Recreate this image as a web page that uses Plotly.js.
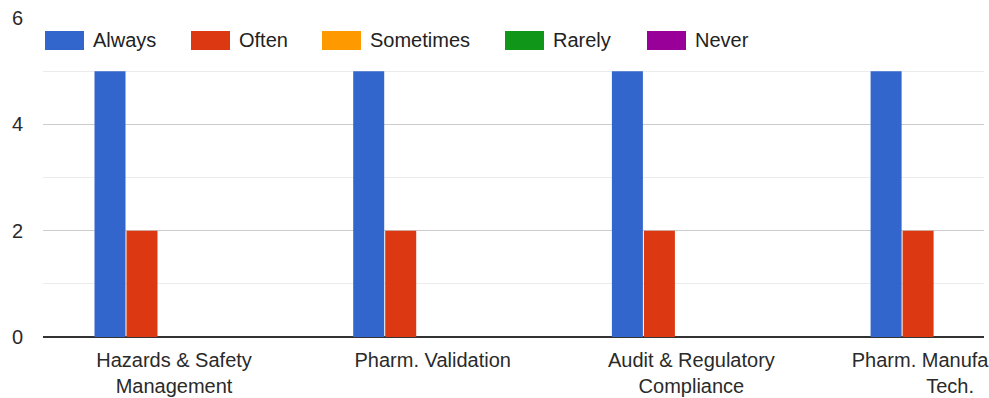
<!DOCTYPE html>
<html>
<head>
<meta charset="utf-8">
<script src="https://cdn.plot.ly/plotly-3.0.1.min.js"></script>
<style>
  html, body { margin: 0; padding: 0; background: #fff; overflow: hidden; }
  #chart { width: 989px; height: 398px; }
</style>
</head>
<body>
<div id="chart"></div>
<script>
// ---- data ----
const categories = ["Hazards & Safety Management", "Pharm. Validation", "Audit & Regulatory Compliance", "Pharm. Manufacturing Tech."];
const tickLabels = ["Hazards & Safety<br>Management", "Pharm. Validation", "Audit & Regulatory<br>Compliance", "Pharm. Manufacturing<br>Tech."];
const seriesNames = ["Always", "Often", "Sometimes", "Rarely", "Never"];
const always    = [5, 5, 5, 5];
const often     = [2, 2, 2, 2];
const sometimes = [0, 0, 0, 0];
const rarely    = [0, 0, 0, 0];
const never     = [0, 0, 0, 0];
const seriesValues = [always, often, sometimes, rarely, never];
const colors = ["#3366cc", "#dc3912", "#ff9900", "#109618", "#990099"];
const yTicks = [0, 2, 4, 6];

// ---- layout geometry (pixels) ----
const W = 989, H = 398;
const M = { l: 43, r: 5, t: 18, b: 61 };
const plotW = W - M.l - M.r, plotH = H - M.t - M.b;
const px2x = px => (px - M.l) / plotW;
const py2y = py => (H - M.b - py) / plotH;

const traces = seriesValues.map((vals, i) => ({
  type: "bar",
  name: seriesNames[i],
  x: categories,
  y: vals,
  marker: { color: colors[i], line: { width: 0 } },
  showlegend: false,
  hoverinfo: "none"
}));

// custom legend (wide swatches like the reference)
const legendSwatchX = [45, 191, 322, 505, 647];
const swW = 39, swTop = 31, swBot = 50;
const shapes = [], annotations = [];
seriesNames.forEach((n, i) => {
  shapes.push({
    type: "rect", xref: "paper", yref: "paper", layer: "above",
    x0: px2x(legendSwatchX[i]), x1: px2x(legendSwatchX[i] + swW),
    y0: py2y(swBot), y1: py2y(swTop),
    fillcolor: colors[i], line: { width: 0 }
  });
  annotations.push({
    xref: "paper", yref: "paper",
    x: px2x(legendSwatchX[i] + swW + 7), y: py2y((swTop + swBot) / 2),
    xanchor: "left", yanchor: "middle", showarrow: false,
    text: n, font: { family: "Liberation Sans, Arial, sans-serif", size: 20, color: "#222" }
  });
});

const layout = {
  width: W, height: H,
  margin: M,
  paper_bgcolor: "#fff", plot_bgcolor: "#fff",
  barmode: "group",
  bargap: 0.3815,
  bargroupgap: 0.031,
  showlegend: false,
  font: { family: "Liberation Sans, Arial, sans-serif", size: 20, color: "#2a2a2a" },
  xaxis: {
    type: "category",
    range: [-0.5064, 3.131],
    tickmode: "array",
    tickvals: categories,
    ticktext: tickLabels,
    ticks: "",
    showgrid: false,
    showline: false,
    zeroline: false,
    ticklabelstandoff: 9,
    tickfont: { size: 20, color: "#2a2a2a" },
    fixedrange: true
  },
  yaxis: {
    range: [0, 6],
    tickmode: "array",
    tickvals: yTicks,
    ticks: "",
    showgrid: true,
    gridcolor: "#cccccc",
    gridwidth: 1,
    minor: { dtick: 1, tick0: 0, showgrid: true, gridcolor: "#ebebeb", gridwidth: 1, ticks: "" },
    zeroline: true,
    zerolinecolor: "#333333",
    zerolinewidth: 2,
    showline: false,
    ticklabelstandoff: 19,
    tickfont: { size: 20, color: "#2a2a2a" },
    fixedrange: true
  },
  shapes: shapes,
  annotations: annotations
};

Plotly.newPlot("chart", traces, layout, { staticPlot: true, displayModeBar: false });
</script>
</body>
</html>
